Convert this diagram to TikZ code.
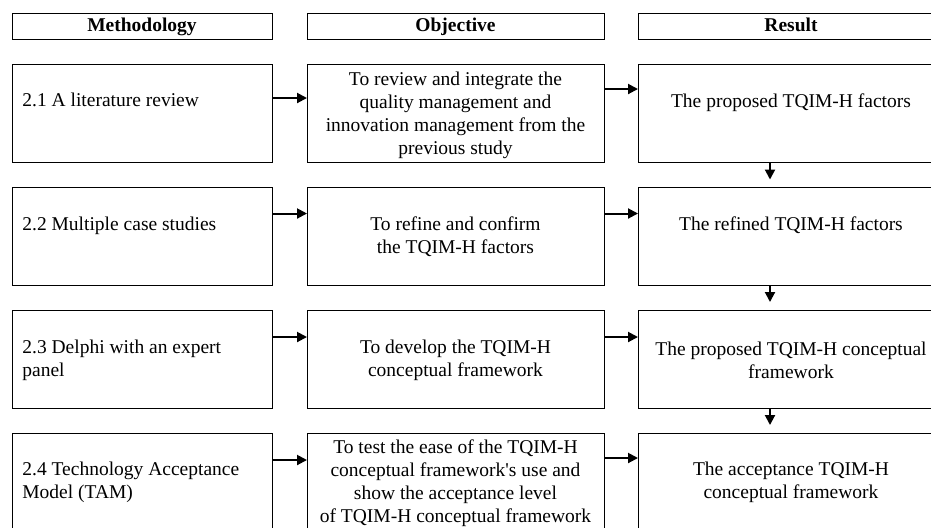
\documentclass[tikz,border=0pt]{standalone}
\usepackage{fontspec}
\setmainfont{Liberation Serif}
\usetikzlibrary{arrows.meta}

\begin{document}
\begin{tikzpicture}[x=0.5pt, y=-0.5pt,
    every node/.style={font=\fontsize{9.75}{11.5}\selectfont},
    box/.style={draw, line width=0.5pt, minimum height=49pt, inner sep=0pt, outer sep=0pt},
    head/.style={draw, line width=0.5pt, minimum height=13pt, inner sep=0pt, outer sep=0pt, text height=7pt, text depth=2pt, font=\fontsize{9.75}{11.5}\selectfont\bfseries},
    txt/.style={align=center, inner sep=0pt},
    arr/.style={line width=1pt, -{Triangle[length=5pt, width=5pt]}}]
    \useasboundingbox (0,0) rectangle (931,527) ;
    % headers
    \node[head, minimum width=130pt] (hm) at (142,26) {Methodology} ;
    \node[head, minimum width=148.5pt] (ho) at (455.5,26) {Objective} ;
    \node[head, minimum width=153pt] (hr) at (791,26) {Result} ;
    % boxes
    \node[box, minimum width=130pt] (m1) at (142,113) {} ;
    \node[box, minimum width=148.5pt] (o1) at (455.5,113) {} ;
    \node[box, minimum width=153pt] (r1) at (791,113) {} ;
    \node[box, minimum width=130pt] (m2) at (142,236.5) {} ;
    \node[box, minimum width=148.5pt] (o2) at (455.5,236.5) {} ;
    \node[box, minimum width=153pt] (r2) at (791,236.5) {} ;
    \node[box, minimum width=130pt] (m3) at (142,359) {} ;
    \node[box, minimum width=148.5pt] (o3) at (455.5,359) {} ;
    \node[box, minimum width=153pt] (r3) at (791,359) {} ;
    \node[box, minimum width=130pt] (m4) at (142,482) {} ;
    \node[box, minimum width=148.5pt] (o4) at (455.5,482) {} ;
    \node[box, minimum width=153pt] (r4) at (791,482) {} ;
    % texts
    \node[txt, anchor=west] (tm1) at (22,100) {2.1 A literature review} ;
    \node[txt] (to1) at (455.5,115) {To review and integrate the\\quality management and\\innovation management from the\\previous study} ;
    \node[txt] (tr1) at (791,103) {The proposed TQIM-H factors} ;
    \node[txt, anchor=west] (tm2) at (22,226) {2.2 Multiple case studies} ;
    \node[txt] (to2) at (455.5,237) {To refine and confirm\\the TQIM-H factors} ;
    \node[txt] (tr2) at (791,225) {The refined TQIM-H factors} ;
    \node[txt, anchor=west, align=left] (tm3) at (22,360) {2.3 Delphi with an expert\\panel} ;
    \node[txt] (to3) at (455.5,360) {To develop the TQIM-H\\conceptual framework} ;
    \node[txt] (tr3) at (791,360) {The proposed TQIM-H conceptual\\framework} ;
    \node[txt, anchor=west, align=left] (tm4) at (22,482) {2.4 Technology Acceptance\\Model (TAM)} ;
    \node[txt] (to4) at (455.5,483) {To test the ease of the TQIM-H\\conceptual framework\textquotesingle s use and\\show the acceptance level\\of TQIM-H conceptual framework} ;
    \node[txt] (tr4) at (791,482) {The acceptance TQIM-H\\conceptual framework} ;
    % arrows
    \draw[arr] ([yshift=-17pt]m1.north east) -- ([yshift=-17pt]o1.north west) ;
    \draw[arr] ([yshift=-12.5pt]o1.north east) -- ([yshift=-12.5pt]r1.north west) ;
    \draw[arr] ([yshift=-13pt]m2.north east) -- ([yshift=-13pt]o2.north west) ;
    \draw[arr] ([yshift=-13pt]o2.north east) -- ([yshift=-13pt]r2.north west) ;
    \draw[arr] ([yshift=-13.5pt]m3.north east) -- ([yshift=-13.5pt]o3.north west) ;
    \draw[arr] ([yshift=-13.5pt]o3.north east) -- ([yshift=-13.5pt]r3.north west) ;
    \draw[arr] ([yshift=-13.5pt]m4.north east) -- ([yshift=-13.5pt]o4.north west) ;
    \draw[arr] ([yshift=-12.5pt]o4.north east) -- ([yshift=-12.5pt]r4.north west) ;
    \draw[arr] ([xshift=66pt]r1.south west) -- ([xshift=66pt, yshift=4pt]r2.north west) ;
    \draw[arr] ([xshift=66pt]r2.south west) -- ([xshift=66pt, yshift=4pt]r3.north west) ;
    \draw[arr] ([xshift=66pt]r3.south west) -- ([xshift=66pt, yshift=4pt]r4.north west) ;
\end{tikzpicture}
\end{document}
